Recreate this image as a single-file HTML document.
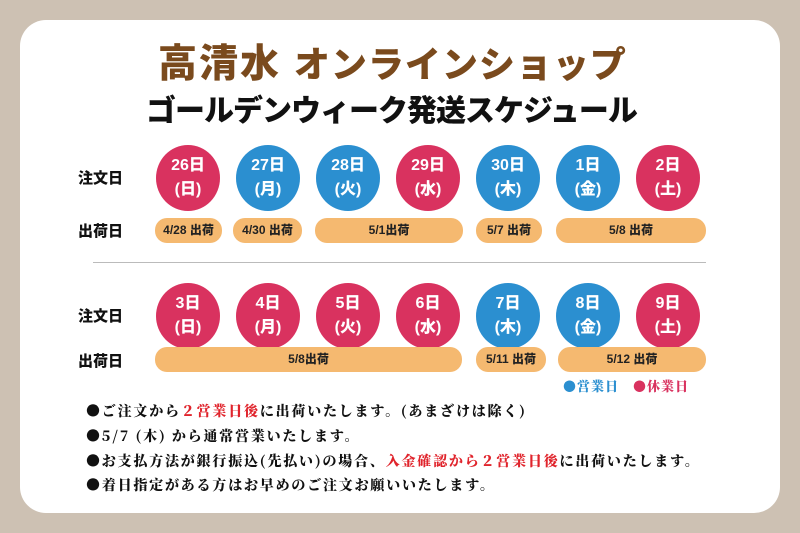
<!DOCTYPE html>
<html><head><meta charset="utf-8"><style>
*{margin:0;padding:0;box-sizing:border-box}
body{width:800px;height:533px;background:#cdc1b3;position:relative;overflow:hidden;font-family:"Liberation Sans","Noto Sans CJK JP",sans-serif}
.card{position:absolute;left:20px;top:20px;width:760px;height:493px;background:#fff;border-radius:26px}
.a{position:absolute;white-space:nowrap}
.c{position:absolute;width:64px;height:66px;border-radius:50%;color:#fff;font-weight:900;font-size:16px;text-align:center;line-height:24px;padding-top:9px}
.p{background:#d9325f}.b{background:#2b8fd0}
.pill{position:absolute;height:25px;background:#f5b970;border-radius:12px;font-weight:900;font-size:12px;text-align:center;line-height:25px;color:#222}
.lbl{position:absolute;left:78px;font-weight:900;font-size:15px;color:#111}
.n{position:absolute;left:86px;font-family:"Noto Serif CJK SC","Noto Sans CJK JP",serif;font-weight:900;font-size:14px;letter-spacing:1.8px;color:#111;white-space:nowrap}
.r{color:#e0242c}
</style></head><body>
<div class="card"></div>
<div class="a" style="left:158px;top:33px;font-size:39px;font-weight:900;color:#7a4a1d;letter-spacing:2px">高清水 <span style="font-size:36px;letter-spacing:1px">オンラインショップ</span></div>
<div class="a" style="left:146px;top:86px;font-size:30px;font-weight:900;color:#111;letter-spacing:-1px">ゴールデンウィーク発送スケジュール</div>
<div class="lbl" style="top:167px">注文日</div>
<div class="lbl" style="top:220px">出荷日</div>
<div class="lbl" style="top:305px">注文日</div>
<div class="lbl" style="top:350px">出荷日</div>
<div class="c p" style="left:156px;top:145px">26日<br>(日)</div>
<div class="c b" style="left:236px;top:145px">27日<br>(月)</div>
<div class="c b" style="left:316px;top:145px">28日<br>(火)</div>
<div class="c p" style="left:396px;top:145px">29日<br>(水)</div>
<div class="c b" style="left:476px;top:145px">30日<br>(木)</div>
<div class="c b" style="left:556px;top:145px">1日<br>(金)</div>
<div class="c p" style="left:636px;top:145px">2日<br>(土)</div>
<div class="pill" style="left:155px;top:218px;width:67px">4/28 出荷</div>
<div class="pill" style="left:233px;top:218px;width:69px">4/30 出荷</div>
<div class="pill" style="left:315px;top:218px;width:148px">5/1出荷</div>
<div class="pill" style="left:476px;top:218px;width:66px">5/7 出荷</div>
<div class="pill" style="left:556px;top:218px;width:150px">5/8 出荷</div>
<div style="position:absolute;left:93px;top:262px;width:613px;height:1px;background:#bbb"></div>
<div class="c p" style="left:156px;top:283px">3日<br>(日)</div>
<div class="c p" style="left:236px;top:283px">4日<br>(月)</div>
<div class="c p" style="left:316px;top:283px">5日<br>(火)</div>
<div class="c p" style="left:396px;top:283px">6日<br>(水)</div>
<div class="c b" style="left:476px;top:283px">7日<br>(木)</div>
<div class="c b" style="left:556px;top:283px">8日<br>(金)</div>
<div class="c p" style="left:636px;top:283px">9日<br>(土)</div>
<div class="pill" style="left:155px;top:347px;width:307px">5/8出荷</div>
<div class="pill" style="left:476px;top:347px;width:70px">5/11 出荷</div>
<div class="pill" style="left:558px;top:347px;width:148px">5/12 出荷</div>
<div class="n" style="left:563px;top:376px;font-size:13px;letter-spacing:1px"><span style="color:#2b8fd0">●営業日</span>　<span style="color:#d9325f">●休業日</span></div>
<div class="n" style="top:401px">●ご注文から<span class="r">２営業日後</span>に出荷いたします。(あまざけは除く)</div>
<div class="n" style="top:426px">●5/7 (木) から通常営業いたします。</div>
<div class="n" style="top:451px">●お支払方法が銀行振込(先払い)の場合、<span class="r">入金確認から２営業日後</span>に出荷いたします。</div>
<div class="n" style="top:475px">●着日指定がある方はお早めのご注文お願いいたします。</div>
</body></html>
